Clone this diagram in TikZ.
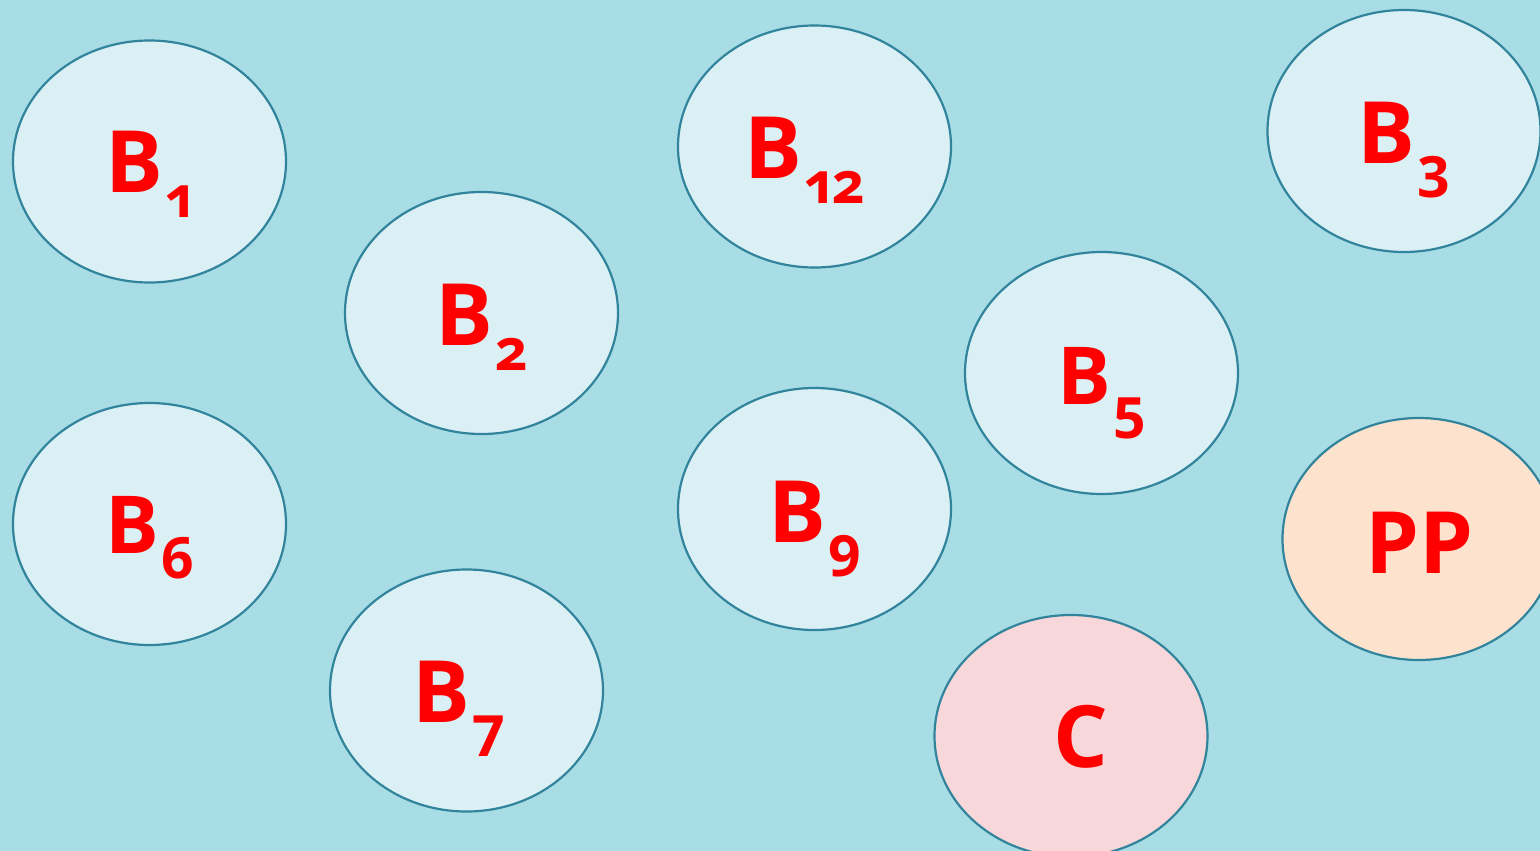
\documentclass[tikz,border=0pt]{standalone}
\usepackage{fontspec}
\setmainfont{Open Sans}[Numbers=OldStyle]
\usetikzlibrary{shapes.geometric}
\definecolor{bgwater}{HTML}{A9DDE6}
\definecolor{bubblefill}{HTML}{DAF0F5}
\definecolor{bubbleline}{HTML}{31849B}
\definecolor{ppfill}{HTML}{FDE3CE}
\definecolor{cfill}{HTML}{F7D7D9}
\definecolor{lblred}{HTML}{FF0000}
\newcommand{\Bsub}[1]{B\kern2pt\raisebox{-25pt}{\fontsize{57}{57}\selectfont #1}}
\begin{document}
\begin{tikzpicture}[x=1pt,y=-1pt,
  bubble/.style={ellipse, draw=bubbleline, line width=2.2pt, fill=bubblefill,
    minimum width=273pt, minimum height=242pt, inner sep=0pt},
  lbl/.style={anchor=base, text=lblred, inner sep=0pt,
    font=\fontsize{86}{86}\selectfont\bfseries}]
\fill[bgwater] (0,0) rectangle (1540,851);
\useasboundingbox (0,0) rectangle (1540,851);
\begin{scope}
\clip (0,0) rectangle (1540,851);
\node[bubble] (b1) at (149.5,161.5) {};
\node[bubble] (b2) at (481.5,313) {};
\node[bubble] (b12) at (814.5,146.5) {};
\node[bubble] (b3) at (1404,131) {};
\node[bubble] (b5) at (1101.5,373) {};
\node[bubble] (b6) at (149.5,524) {};
\node[bubble] (b9) at (814.5,509) {};
\node[bubble] (b7) at (466.5,690.5) {};
\node[bubble, fill=ppfill] (pp) at (1419,539) {};
\node[bubble, fill=cfill] (c) at (1071,736) {};
\end{scope}
\node[lbl, yshift=-31pt] (t1) at (b1.center) {\Bsub{1}};
\node[lbl, yshift=-32pt] (t2) at (b2.center) {\Bsub{2}};
\node[lbl, yshift=-31.5pt, xshift=-10pt] (t12) at (b12.center) {\Bsub{12}};
\node[lbl, yshift=-32pt] (t3) at (b3.center) {\Bsub{3}};
\node[lbl, yshift=-31pt, font=\fontsize{80}{80}\selectfont\bfseries] (t5) at (b5.center) {\Bsub{5}};
\node[lbl, yshift=-29pt, font=\fontsize{80}{80}\selectfont\bfseries] (t6) at (b6.center) {\Bsub{6}};
\node[lbl, yshift=-33pt] (t9) at (b9.center) {\Bsub{9}};
\node[lbl, yshift=-32pt, xshift=-8pt] (t7) at (b7.center) {\Bsub{7}};
\node[lbl, yshift=-34pt] (tpp) at (pp.center) {PP};
\node[lbl, yshift=-31pt, xshift=10pt] (tc) at (c.center) {C};
\end{tikzpicture}
\end{document}
